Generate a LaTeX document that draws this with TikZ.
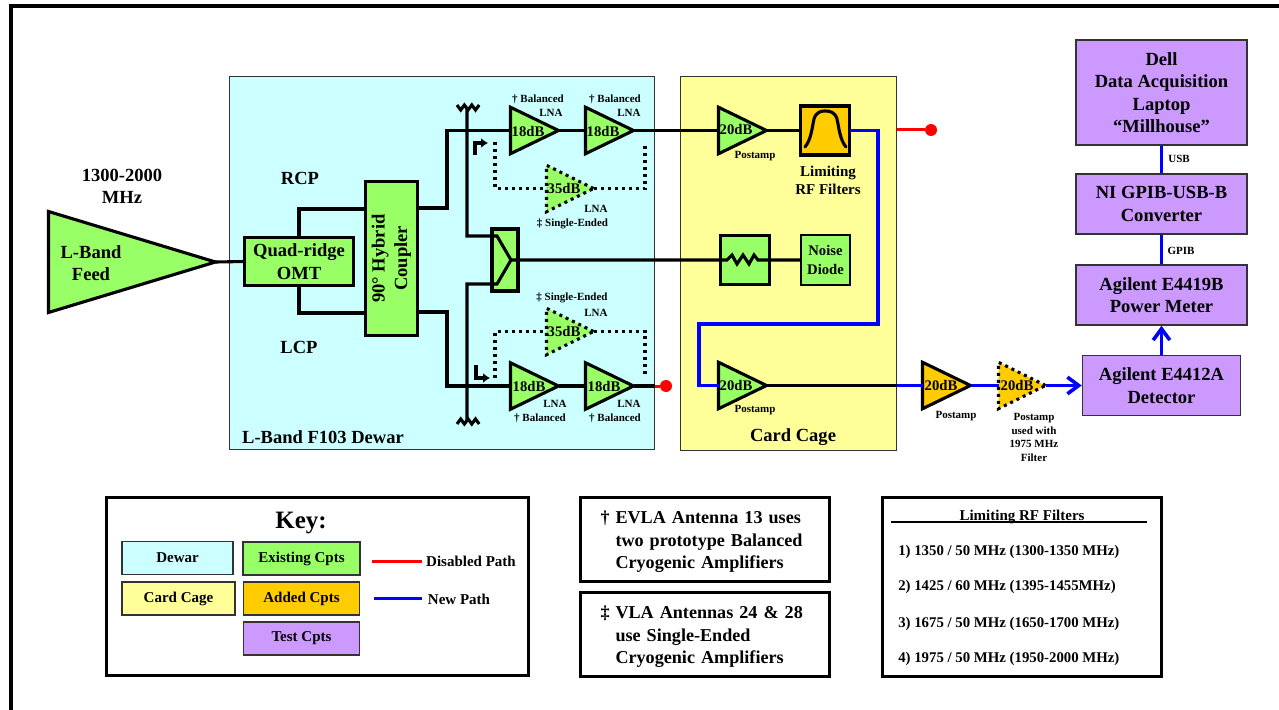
\documentclass[tikz,border=0pt]{standalone}
\usepackage{fontspec}
\setmainfont{Liberation Serif}
\usetikzlibrary{shapes.geometric,arrows.meta}
\newdimen\px
\px=0.75pt
\definecolor{dewarcol}{HTML}{CCFFFF}
\definecolor{cagecol}{HTML}{FFFF99}
\definecolor{oldcol}{HTML}{99FF66}
\definecolor{addcol}{HTML}{FFCC00}
\definecolor{testcol}{HTML}{CC99FF}
\begin{document}
\begin{tikzpicture}[x=0.75pt,y=-0.75pt]

% Styles
\tikzstyle{big}		=	[font=\fontsize{13.9}{16.9}\selectfont\bfseries, align=center, inner sep=0pt]
\tikzstyle{mid}		=	[font=\fontsize{11.25}{13.5}\selectfont\bfseries, align=center, inner sep=0pt]
\tikzstyle{tag}		=	[font=\fontsize{8.25}{10}\selectfont\bfseries, align=center, inner sep=0pt]
\tikzstyle{gain}	=	[font=\fontsize{11}{13}\selectfont\bfseries, inner sep=0pt]
\tikzstyle{area}	=	[rectangle, draw=black!80, line width=1\px, inner sep=0pt]
\tikzstyle{comp}	=	[rectangle, draw, line width=3.1\px, fill=oldcol, outer sep=0pt, inner sep=0pt, big]
\tikzstyle{test}	=	[rectangle, draw=black!80, line width=1.5\px, fill=testcol, minimum width=171\px, minimum height=60\px, inner sep=0pt, big]
\tikzstyle{swatch}	=	[rectangle, draw=black!80, line width=1.5\px, minimum height=33\px, inner sep=0pt, mid]
\tikzstyle{panel}	=	[rectangle, draw, line width=3\px, inner sep=0pt, big]
\tikzstyle{amp}		=	[isosceles triangle, isosceles triangle stretches, draw, line width=3.1\px, inner sep=0pt, outer sep=0pt, minimum height=48\px, minimum width=46.5\px, fill=oldcol, line join=miter]
\tikzstyle{ampdot}	=	[amp, dash pattern=on 2.25pt off 3pt, minimum height=47\px]
\tikzstyle{wire}	=	[line width=3.1\px, line join=miter]
\tikzstyle{bluewire}	=	[line width=3.5\px, blue, line join=miter]
\tikzstyle{redwire}	=	[line width=3\px, red]
\tikzstyle{dotwire}	=	[line width=3.5\px, dash pattern=on 2.25pt off 3pt]
\tikzstyle{stub}	=	[circle, fill=red, inner sep=0pt, minimum size=12\px]
\tikzstyle{openarrow}	=	[line width=3.5\px, blue, -{Straight Barb[length=8.5pt, width=12.5pt, line width=2.7pt]}]
\tikzstyle{bent}	=	[line width=4\px, line join=miter, -{Latex[length=5.25pt, width=7.5pt]}]

\useasboundingbox (0,0) rectangle (1279,710);
\draw[line width=3.5\px] (1279,6) -- (11,6) -- (11,710); % Frame

% Areas
\node[area, fill=dewarcol, minimum width=425\px, minimum height=373\px] (dewar) at (442,263) {};
\node[area, fill=cagecol, minimum width=216\px, minimum height=374\px] (cage) at (788.5,263.5) {};
\node[big] (dewar_text) at (323,437) {L-Band F103 Dewar};
\node[big] (cage_text) at (793,437) {Card Cage};

% Feed and OMT
\node[amp, anchor=west, minimum height=167\px, minimum width=101\px] (feed) at (48.5,262) {};
\node[big] (feed_text) at (91,263) {L-Band\\Feed};
\node[big] (band_text) at (122,186.5) {1300-2000\\MHz};
\node[comp, minimum width=109\px, minimum height=48\px] (omt) at (299,261.5) {Quad-ridge\\OMT};
\node[comp, rotate=90, minimum width=154\px, minimum height=52\px] (hybrid) at (391.5,258.5) {90° Hybrid\\Coupler};
\node[big] (rcp_text) at (300,178) {RCP};
\node[big] (lcp_text) at (299,347) {LCP};

% Top chain
\node[amp, anchor=west] (lna_top1) at (510.5,130.5) {};
\node[amp] (lna_top2) [right of=lna_top1, node distance=75\px] {};
\node[gain] (gain_top1) at (528,131) {18dB};
\node[gain] (gain_top2) at (603,131) {18dB};
\node[tag] (bal_top1) at (538,99.5) {† Balanced};
\node[tag] (lna_text1) at (551,113) {LNA};
\node[tag] (bal_top2) at (615,99.5) {† Balanced};
\node[tag] (lna_text2) at (629,113) {LNA};
\node[ampdot, anchor=west] (se_top) at (546.5,188.5) {};
\node[gain] (gain_se1) at (564,188) {35dB};
\node[tag] (lna_text3) at (596,209) {LNA};
\node[tag] (se_text1) at (572.5,224) {‡ Single-Ended};

% Bottom chain
\node[amp, anchor=west] (lna_bot1) at (510.5,386) {};
\node[amp] (lna_bot2) [right of=lna_bot1, node distance=75\px] {};
\node[gain] (gain_bot1) at (529,386) {18dB};
\node[gain] (gain_bot2) at (604,386) {18dB};
\node[tag] (lna_text4) at (555,404) {LNA};
\node[tag] (bal_bot1) at (540,418) {† Balanced};
\node[tag] (lna_text5) at (629,404) {LNA};
\node[tag] (bal_bot2) at (615,418) {† Balanced};
\node[ampdot, anchor=west] (se_bot) at (546.5,331.5) {};
\node[gain] (gain_se2) at (564,331) {35dB};
\node[tag] (se_text2) at (572,298) {‡ Single-Ended};
\node[tag] (lna_text6) at (596,313) {LNA};

% Splitter
\node[comp, minimum width=26\px, minimum height=62\px] (splitter) at (505,260) {};
\coordinate (split_a) at (497,236);
\coordinate (split_b) at (511,260);
\coordinate (split_c) at (497,284);
\coordinate (term_top) at (467,107);
\coordinate (term_bot) at (467,421);

% Card cage
\node[amp, anchor=west] (post_top) at (718.5,130.5) {};
\node[gain] (gain_post1) at (736,129) {20dB};
\node[tag] (post_text1) at (755,156) {Postamp};
\node[comp, fill=addcol, minimum width=49\px, minimum height=49\px] (filter) at (825,130.5) {};
\node[mid] (filter_text) at (828,180.5) {Limiting\\RF Filters};
\node[comp, minimum width=49\px, minimum height=49\px] (atten) at (745,260) {};
\node[comp, line width=2.5\px, font=\fontsize{11}{14}\selectfont\bfseries, minimum width=49\px, minimum height=50\px] (noise) [right of=atten, node distance=80.5\px] {Noise\\Diode};
\node[amp, anchor=west] (post_bot) at (718.5,385.5) {};
\node[gain] (gain_post2) at (736,385) {20dB};
\node[tag] (post_text2) at (755,410) {Postamp};

% Outside
\node[stub] (stub_top) at (931,130) {};
\node[stub] (stub_bot) at (666,386) {};
\coordinate (cage_top) at (897,130);
\coordinate (cage_bot) at (897,385.5);
\coordinate (dewar_bot) at (655,386);
\node[amp, anchor=west, fill=addcol] (post_ext) at (922.5,385.5) {};
\node[gain] (gain_post3) at (941,385) {20dB};
\node[tag] (post_text3) at (956,416) {Postamp};
\node[ampdot, anchor=west, fill=addcol] (post_opt) at (998.5,385.5) {};
\node[gain] (gain_post4) at (1017,385) {20dB};
\node[tag, font=\fontsize{8.25}{10.3}\selectfont\bfseries] (post_text4) at (1034,437.5) {Postamp\\used with\\1975 MHz\\Filter};

% Test equipment
\node[test, minimum height=105\px] (dell) at (1161.5,92.5) {Dell\\Data Acquisition\\Laptop\\“Millhouse”};
\node[test] (gpib) [below of=dell, node distance=111.5\px] {NI GPIB-USB-B\\Converter};
\node[test] (meter) [below of=gpib, node distance=91\px] {Agilent E4419B\\Power Meter};
\node[test, minimum width=158\px] (detector) [below of=meter, node distance=90.5\px] {Agilent E4412A\\Detector};
\node[tag] (usb_text) at (1179,159) {USB};
\node[tag] (gpib_text) at (1181,251) {GPIB};

% Connectors, dewar
\draw[wire] (feed.east) -- (omt.west);
\coordinate (hyb_in1) at (364,209);
\coordinate (hyb_in2) at (364,313);
\coordinate (hyb_out1) at (419,208);
\coordinate (hyb_out2) at (419,312);
\coordinate (bend_top) at (447,130.5);
\coordinate (bend_bot) at (447,386);
\draw[wire] (omt.north) |- (hyb_in1);
\draw[wire] (omt.south) |- (hyb_in2);
\draw[wire] (hyb_out1) -| (bend_top) -- (lna_top1.west);
\draw[wire] (hyb_out2) -| (bend_bot) -- (lna_bot1.west);
\draw[wire] (lna_top1.east) -- (lna_top2.west);
\draw[wire] (lna_bot1.east) -- (lna_bot2.west);
\draw[wire] (lna_top2.east) -- (post_top.west);
\draw[wire] (lna_bot2.east) -- (dewar_bot);
\draw[redwire] (dewar_bot) -- (stub_bot);
\draw[wire] (term_top) |- (split_a) -- (split_b) -- (split_c) -| (term_bot);
\draw[wire] (split_b) -- (727,260) -- ++(5,-5) -- ++(5,9) -- ++(6,-9) -- ++(6,9) -- ++(5,-9) -- ++(4,5) -- (noise.west); % Motstand
\draw[wire] (457,105) -- ++(3.7,5) -- ++(3.7,-5) -- ++(3.7,5) -- ++(3.7,-5) -- ++(3.7,5) -- ++(3.7,-5); % Last topp
\draw[wire] (457,424) -- ++(3.7,-5) -- ++(3.7,5) -- ++(3.7,-5) -- ++(3.7,5) -- ++(3.7,-5) -- ++(3.7,5); % Last bunn

% Bypass
\coordinate (byp_a) at (495,142);
\coordinate (byp_b) at (645,142);
\coordinate (byp_c) at (495,378);
\coordinate (byp_d) at (645,378);
\draw[dotwire] (byp_a) |- (se_top.west);
\draw[dotwire] (se_top.east) -| (byp_b);
\draw[dotwire] (byp_c) |- (se_bot.west);
\draw[dotwire] (se_bot.east) -| (byp_d);
\draw[bent] (475,155) |- (488,143); % Switch
\draw[bent] (476,365) |- (490,378); % Switch

% Connectors, card cage and test
\draw[wire] (post_top.east) -- (filter.west);
\coordinate (blue_a) at (878,324);
\coordinate (blue_b) at (699,324);
\draw[bluewire] (filter.east) -| (blue_a) -- (blue_b) |- (post_bot.west);
\draw[redwire] (cage_top) -- (stub_top);
\draw[wire] (post_bot.east) -- (cage_bot);
\draw[bluewire] (cage_bot) -- (post_ext.west);
\draw[bluewire] (post_ext.east) -- (post_opt.west);
\draw[openarrow] (post_opt.east) -- (detector.west);
\draw[openarrow] (detector.north) -- (meter.south);
\draw[bluewire] (meter.north) -- (gpib.south);
\draw[bluewire] (gpib.north) -- (dell.south);
\draw[line width=3.1\px, line cap=round] (805,147) .. controls (811,140) and (812,128) .. (814,119) .. controls (816,112) and (821,111) .. (825,111) .. controls (830,111) and (835,112) .. (837,119) .. controls (839,128) and (840,140) .. (846,147); % Filterkurve

% Key
\node[panel, minimum width=422\px, minimum height=178\px] (key) at (317,586) {};
\node[big, font=\fontsize{18.75}{22}\selectfont\bfseries] (key_text) at (301,523) {Key:};
\node[swatch, fill=dewarcol, minimum width=111\px] (key_dewar) at (177.5,558) {Dewar};
\node[swatch, fill=cagecol, minimum width=113\px] (key_cage) at (178.5,598.5) {Card Cage};
\node[swatch, fill=oldcol, minimum width=117\px] (key_old) at (301.5,558.5) {Existing Cpts};
\node[swatch, fill=addcol, minimum width=116\px] (key_add) [below of=key_old, node distance=40\px] {Added Cpts};
\node[swatch, fill=testcol, minimum width=116\px] (key_test) [below of=key_add, node distance=40\px] {Test Cpts};
\coordinate (red_a) at (372,561);
\coordinate (red_b) at (422,561);
\coordinate (blue_c) at (374,598);
\coordinate (blue_d) at (422,598);
\draw[redwire] (red_a) -- (red_b);
\draw[bluewire, line width=3\px] (blue_c) -- (blue_d);
\node[mid] (red_text) at (471,561) {Disabled Path};
\node[mid] (blue_text) at (459,599) {New Path};

% Notes
\node[panel, minimum width=249\px, minimum height=84\px] (note_dagger) at (705,539) {};
\node[big, text width=209\px, align=left, font=\fontsize{13.6}{16.9}\selectfont\bfseries] (note_dagger_text) at (705,542) {\makebox[11.25pt][l]{†}EVLA Antenna 13 uses\\\hspace*{11.25pt}two prototype Balanced\\\hspace*{11.25pt}Cryogenic Amplifiers};
\node[panel, minimum width=249\px, minimum height=84\px] (note_ddagger) at (705,634) {};
\node[big, text width=209\px, align=left, font=\fontsize{13.6}{16.9}\selectfont\bfseries] (note_ddagger_text) at (705,637) {\makebox[11.25pt][l]{‡}VLA Antennas 24 \& 28\\\hspace*{11.25pt}use Single-Ended\\\hspace*{11.25pt}Cryogenic Amplifiers};

% Filter list
\node[panel, minimum width=279\px, minimum height=179\px] (filters) at (1021.5,586.5) {};
\node[mid] (filters_text) at (1022,516.5) {Limiting RF Filters};
\coordinate (rule_a) at (891,522);
\coordinate (rule_b) at (1147,522);
\draw[line width=1.2\px] (rule_a) -- (rule_b);
\node[mid, anchor=west, font=\fontsize{11.1}{13}\selectfont\bfseries] (filter1) at (898,552) {1) 1350 / 50 MHz (1300-1350 MHz)};
\node[mid, anchor=west, font=\fontsize{11.1}{13}\selectfont\bfseries] (filter2) at (898,587) {2) 1425 / 60 MHz (1395-1455MHz)};
\node[mid, anchor=west, font=\fontsize{11.1}{13}\selectfont\bfseries] (filter3) at (898,624) {3) 1675 / 50 MHz (1650-1700 MHz)};
\node[mid, anchor=west, font=\fontsize{11.1}{13}\selectfont\bfseries] (filter4) at (898,659) {4) 1975 / 50 MHz (1950-2000 MHz)};

\end{tikzpicture}
\end{document}
